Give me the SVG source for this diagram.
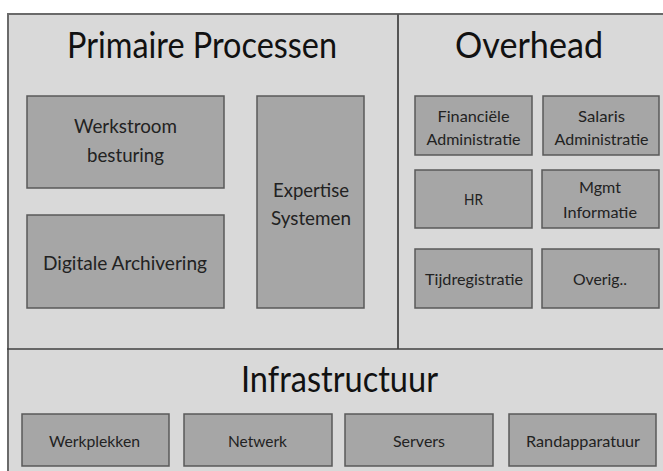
<svg xmlns="http://www.w3.org/2000/svg" width="663" height="471" viewBox="0 0 663 471">
<style>
.bg{fill:#d9d9d9}
.box{fill:#a6a6a6;stroke:#595959;stroke-width:1.5}
.t{font-family:Lato,"Liberation Sans",sans-serif;fill:#222;text-anchor:middle}
.title{font-size:36px;fill:#111}
.m{font-size:19px}
.s{font-size:16px}
.xs{font-size:15px}
.line{stroke:#6a6a6a;stroke-width:2;fill:none}
</style>
<rect x="0" y="0" width="663" height="471" fill="#ffffff"/>
<g id="frame">
<rect class="bg" x="7" y="13" width="656" height="458"/>
<path class="line" d="M8 471 V14 H663" stroke="#808080"/>
<path d="M398 14 V349" stroke="#555" stroke-width="2"/>
<path d="M7 349 H663" stroke="#404040" stroke-width="1.6"/>
</g>
<g id="primaire">
<text class="t title" x="202" y="58" textLength="270" lengthAdjust="spacingAndGlyphs">Primaire Processen</text>
</g>
<g id="overhead">
<text class="t title" x="529" y="58" textLength="148" lengthAdjust="spacingAndGlyphs">Overhead</text>
</g>
<g id="infrastructuur">
<text class="t title" x="339.5" y="392" textLength="197" lengthAdjust="spacingAndGlyphs">Infrastructuur</text>
</g>
<g id="werkstroom">
<rect class="box" x="27" y="96" width="197" height="92"/>
<text class="t m" x="125.5" y="133" textLength="103" lengthAdjust="spacingAndGlyphs">Werkstroom</text>
<text class="t m" x="125.5" y="162" textLength="77" lengthAdjust="spacingAndGlyphs">besturing</text>
</g>
<g id="digitale">
<rect class="box" x="27" y="215" width="197" height="93"/>
<text class="t m" x="125" y="270" textLength="164" lengthAdjust="spacingAndGlyphs">Digitale Archivering</text>
</g>
<g id="expertise">
<rect class="box" x="257" y="96" width="107" height="212"/>
<text class="t m" x="311" y="197" textLength="76" lengthAdjust="spacingAndGlyphs">Expertise</text>
<text class="t m" x="311" y="225" textLength="80" lengthAdjust="spacingAndGlyphs">Systemen</text>
</g>
<g id="financiele">
<rect class="box" x="415" y="96" width="117" height="59"/>
<text class="t s" x="473.5" y="122" textLength="72" lengthAdjust="spacingAndGlyphs">Financiële</text>
<text class="t s" x="473.5" y="145" textLength="94" lengthAdjust="spacingAndGlyphs">Administratie</text>
</g>
<g id="salaris">
<rect class="box" x="543" y="96" width="116" height="59"/>
<text class="t s" x="601.5" y="122" textLength="47" lengthAdjust="spacingAndGlyphs">Salaris</text>
<text class="t s" x="601.5" y="145" textLength="94" lengthAdjust="spacingAndGlyphs">Administratie</text>
</g>
<g id="hr">
<rect class="box" x="415" y="170" width="117" height="58"/>
<text class="t s" x="473.5" y="205" textLength="19" lengthAdjust="spacingAndGlyphs">HR</text>
</g>
<g id="mgmt">
<rect class="box" x="542" y="170" width="117" height="58"/>
<text class="t s" x="600" y="193" textLength="42" lengthAdjust="spacingAndGlyphs">Mgmt</text>
<text class="t s" x="600" y="218" textLength="74" lengthAdjust="spacingAndGlyphs">Informatie</text>
</g>
<g id="tijdregistratie">
<rect class="box" x="415" y="249" width="117" height="59"/>
<text class="t s" x="474" y="285" textLength="98" lengthAdjust="spacingAndGlyphs">Tijdregistratie</text>
</g>
<g id="overig">
<rect class="box" x="542" y="249" width="117" height="59"/>
<text class="t s" x="600" y="285" textLength="54" lengthAdjust="spacingAndGlyphs">Overig..</text>
</g>
<g id="werkplekken">
<rect class="box" x="22" y="414" width="147" height="52"/>
<text class="t xs" x="94.5" y="447" textLength="91" lengthAdjust="spacingAndGlyphs">Werkplekken</text>
</g>
<g id="netwerk">
<rect class="box" x="184" y="414" width="148" height="52"/>
<text class="t xs" x="257.5" y="447" textLength="59" lengthAdjust="spacingAndGlyphs">Netwerk</text>
</g>
<g id="servers">
<rect class="box" x="345" y="414" width="148" height="52"/>
<text class="t xs" x="419" y="447" textLength="52" lengthAdjust="spacingAndGlyphs">Servers</text>
</g>
<g id="randapparatuur">
<rect class="box" x="509" y="414" width="147" height="52"/>
<text class="t xs" x="583" y="447" textLength="114" lengthAdjust="spacingAndGlyphs">Randapparatuur</text>
</g>
<g id="connectors"></g>
</svg>
